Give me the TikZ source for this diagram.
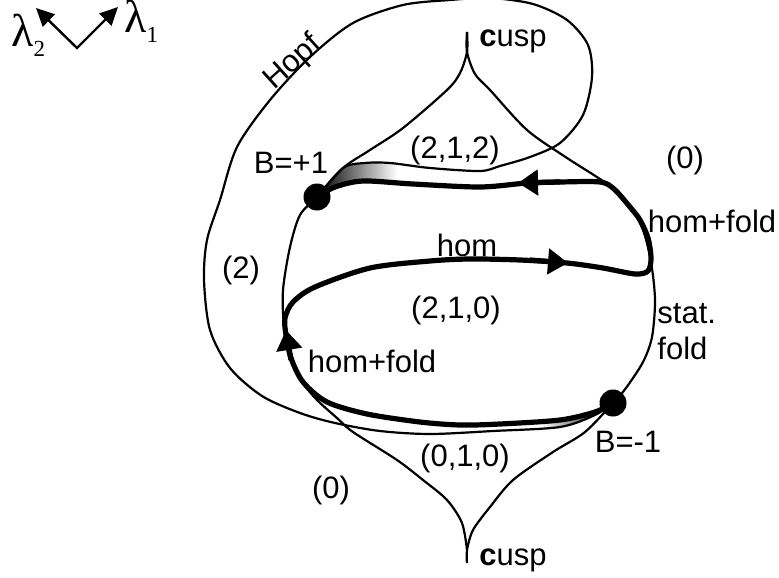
\documentclass[tikz,border=0pt]{standalone}
\usepackage{fontspec}
\setmainfont{Liberation Sans}
\newfontfamily\lamfont{Liberation Serif}
\usetikzlibrary{arrows.meta}

\tikzset{
  lbl/.style={inner sep=0pt,font=\fontsize{15.5}{18}\selectfont},
  lamlbl/.style={inner sep=0pt,anchor=base west,font=\fontsize{23}{26}\lamfont},
  thinline/.style={line width=1.1pt},
  thickline/.style={line width=2.6pt},
  midarrow/.style={line width=2.6pt,-{Triangle[length=10pt,width=12.5pt]}},
}
\newcommand{\lamsub}[1]{\raisebox{-5pt}{\fontsize{11.5}{12}\selectfont #1}}

\begin{document}
\begin{tikzpicture}[x=0.5pt,y=-0.5pt]
\useasboundingbox (0,0) rectangle (779,577);
% Bogdanov-Takens points
\coordinate (Bp) at (317,197);
\coordinate (Bm) at (613,403);
% parameter directions
\coordinate (V) at (77,48);
\coordinate (L2tip) at (36,8);
\coordinate (L1tip) at (118,7);
\draw[line width=1.2pt,{Triangle[length=9pt,width=8.5pt]}-{Triangle[length=9pt,width=8.5pt]}]
  (L2tip) -- (V) -- (L1tip);
\node[lamlbl] (lam2) at (11,47) {λ\lamsub{2}};
\node[lamlbl] (lam1) at (124,33) {λ\lamsub{1}};
% shaded wedges at the BT points
\shade[left color=black,right color=white]
  plot[smooth] coordinates {(Bp) (343,168) (365,163) (397,163)} -- (397,185)
  -- plot[smooth] coordinates {(397,185) (363,181) (335,187) (Bp)} -- cycle;
\shade[left color=white,right color=black]
  plot[smooth] coordinates {(540,421) (560,420) (595,412) (Bm)}
  -- plot[smooth] coordinates {(Bm) (595,415) (560,427) (540,429)} -- cycle;
% saddle-node (fold) curve with its two cusps
\draw[thinline] plot[smooth] coordinates {
  (467,32)(467,52)(475,74)(490,90)(527,130)(567,158)(607,184)(630,207)
  (643,230)(651,262)(655,300)(652,337)(643,362)(626,388)(Bm)(585,432)
  (553,452)(513,480)(490,507)(473,530)(467,550)(467,563)};
\draw[thinline] plot[smooth] coordinates {
  (467,32)(467,52)(460,73)(447,90)(403,128)(370,150)(343,168)(Bp)
  (300,215)(290,247)(283,290)(284,325)(291,360)(303,383)(317,400)
  (337,418)(353,432)(397,460)(423,480)(447,500)(462,523)(467,550)};
% Hopf curve from B=+1 round to B=-1
\draw[thinline] plot[smooth] coordinates {
  (Bp)(343,168)(365,163)(390,163)(430,168)(480,171)(500,166)(530,157)
  (560,143)(583,115)(592,77)(588,45)(567,20)(533,4)(490,-2)(450,0)
  (403,5)(353,23)(310,57)(270,100)(237,147)(220,200)(207,240)(204,280)
  (210,330)(230,368)(262,396)(300,413)(335,423)(380,431)(430,434)
  (493,431)(560,427)(595,415)(Bm)};
% homoclinic orbit (thick)
\draw[thickline] plot[smooth] coordinates {
  (Bm)(595,412)(560,420)(500,424)(460,425)(420,422)(367,414)(327,402)
  (303,382)(291,358)(286,335)(285,318)(293,302)(315,287)(370,268)
  (430,261)(470,259)(520,260)(567,263)(603,268)(635,274)(648,271)
  (651,258)(648,238)(640,220)(630,207)(614,189)(600,182)(560,182)
  (527,183)(480,187)(413,184)(363,181)(335,187)(Bp)};
\draw[midarrow] (291,360) -- (286,330);
\draw[midarrow] (530,260) -- (568,263);
\draw[midarrow] (560,182) -- (518,183);
\fill (Bp) circle (6.75pt);
\fill (Bm) circle (6.75pt);
% labels
\node[lbl,rotate=42] (hopf) at (293,63) {Hopf};
\node[lbl] (cusptop) at (513,41) {{\bfseries c}usp};
\node[lbl] (cuspbot) at (513,560) {{\bfseries c}usp};
\node[lbl] (zeroR) at (685,160) {(0)};
\node[lbl] (r212) at (455,150) {(2,1,2)};
\node[lbl] (Bplbl) at (291,163) {B=+1};
\node[lbl] (hfR) at (712,221) {hom+fold};
\node[lbl] (hom) at (467,245) {hom};
\node[lbl] (two) at (241,270) {(2)};
\node[lbl] (r210) at (456,310) {(2,1,0)};
\node[lbl,anchor=base west] (stat) at (657,323) {stat.};
\node[lbl,anchor=base west] (fold) at (657,359) {fold};
\node[lbl] (hfL) at (372,361) {hom+fold};
\node[lbl] (Bmlbl) at (628,442) {B=-1};
\node[lbl] (r010) at (465,458) {(0,1,0)};
\node[lbl] (zeroL) at (331,490) {(0)};
\end{tikzpicture}
\end{document}
